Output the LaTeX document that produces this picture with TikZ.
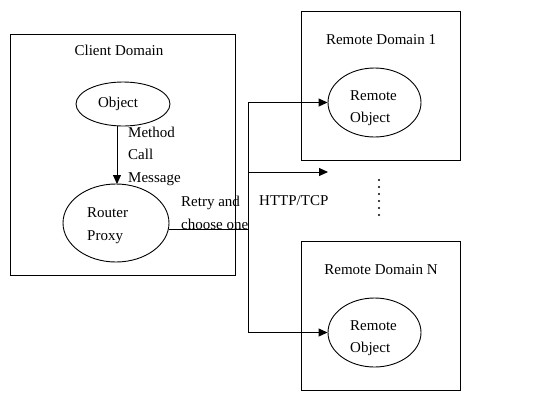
\documentclass[tikz,border=0pt]{standalone}
\usepackage{fontspec}
\setmainfont{Liberation Serif}
\usetikzlibrary{arrows.meta,shapes.geometric}
\begin{document}
\begin{tikzpicture}[x=1pt,y=-1pt,
  domainbox/.style={draw,line width=0.9pt,rectangle,inner sep=0pt},
  objbox/.style={draw,line width=0.9pt,ellipse,inner sep=0pt},
  lbl/.style={anchor=base west,inner sep=0pt,font=\fontsize{15}{17}\selectfont},
  clbl/.style={anchor=base,inner sep=0pt,font=\fontsize{15}{17}\selectfont},
  conn/.style={line width=0.9pt},
  arr/.style={line width=0.9pt,-{Triangle[length=9pt,width=8pt]}}]
\useasboundingbox (0,0) rectangle (538,402);
% client domain
\node[domainbox,minimum width=225pt,minimum height=241pt] (client) at (122.5,154.5) {};
\node[clbl] (clienttxt) at (119,55) {Client Domain};
\node[objbox,minimum width=94pt,minimum height=44pt] (object) at (123,104) {};
\node[clbl] (objtxt) at (118,107) {Object};
\node[objbox,minimum width=106pt,minimum height=78pt] (router) at (116,223) {};
\node[lbl] (rt1) at (87,217) {Router};
\node[lbl] (rt2) at (87,240) {Proxy};
\draw[arr] (117,125.8) coordinate (objbot) -- (117,184) coordinate (routtop);
\node[lbl] (m1) at (128,137) {Method};
\node[lbl] (m2) at (128,159) {Call};
\node[lbl] (m3) at (128,182) {Message};
\node[lbl] (r1) at (181,206) {Retry and};
\node[lbl] (r2) at (181,229) {choose one};
% remote domain 1
\node[domainbox,minimum width=159pt,minimum height=149pt] (rd1) at (380.5,85.5) {};
\node[clbl] (rd1txt) at (381,44) {Remote Domain 1};
\node[objbox,minimum width=93pt,minimum height=69pt] (ro1) at (374.5,102.5) {};
\node[lbl] (ro1a) at (350,100) {Remote};
\node[lbl] (ro1b) at (350,122) {Object};
% remote domain N
\node[domainbox,minimum width=159pt,minimum height=149pt] (rdn) at (380.5,315.5) {};
\node[clbl] (rdntxt) at (381,274) {Remote Domain N};
\node[objbox,minimum width=93pt,minimum height=69pt] (ron) at (374.5,332.5) {};
\node[lbl] (rona) at (350,330) {Remote};
\node[lbl] (ronb) at (350,352) {Object};
% bus
\coordinate (join) at (248,229);
\coordinate (bustop) at (248,102.5);
\coordinate (busmid) at (248,172);
\coordinate (midtip) at (328,172);
\coordinate (busbot) at (248,332.5);
\draw[conn] (169,229) -- (join);
\draw[conn] (bustop) -- (busbot);
\draw[arr] (bustop) -- (ro1.west);
\draw[arr] (busmid) -- (midtip);
\draw[arr] (busbot) -- (ron.west);
\node[lbl] (http) at (259,205) {HTTP/TCP};
% dots
\foreach \i in {0,...,5} {\fill (379,180+7*\i) circle (1.1pt);}
\end{tikzpicture}
\end{document}
